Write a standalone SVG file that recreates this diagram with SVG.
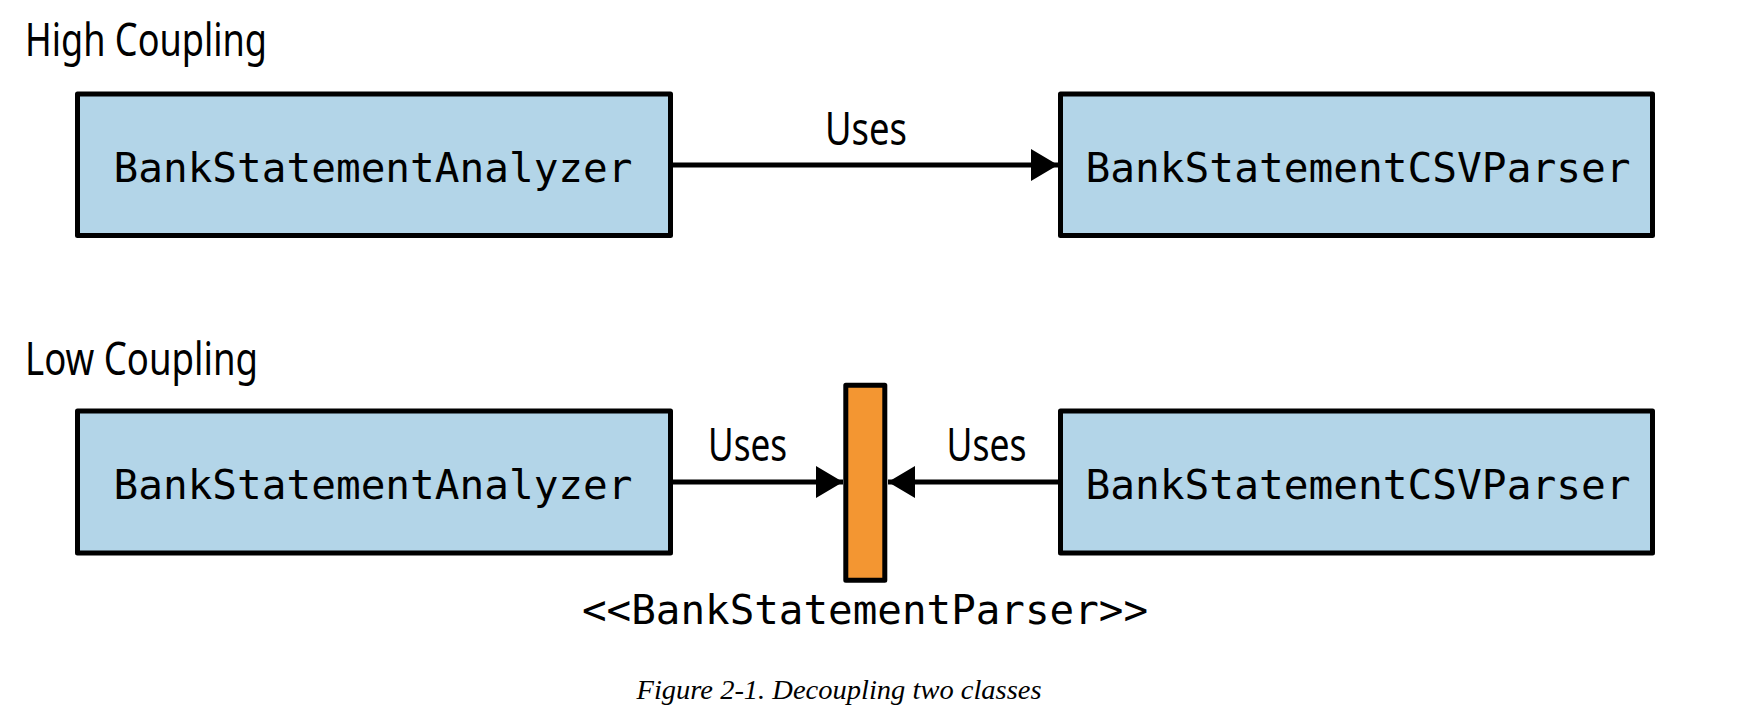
<svg xmlns="http://www.w3.org/2000/svg" width="1738" height="726" viewBox="0 0 1738 726">
<defs>
<style>
.bg{fill:#ffffff}
.cls{fill:#b3d5e8;stroke:#000;stroke-width:5;stroke-linejoin:round}
.iface{fill:#f39632;stroke:#000;stroke-width:5;stroke-linejoin:round}
.mono{font-family:"DejaVu Sans Mono","Liberation Mono",monospace;font-size:41px;fill:#000}
.head{font-family:"Noto Sans","Open Sans",sans-serif;font-size:46px;fill:#000}
.lbl{font-family:"Noto Sans","Open Sans",sans-serif;font-size:46px;fill:#000}
.cap{font-family:"Liberation Serif","Times New Roman",serif;font-style:italic;font-size:28px;fill:#000}
.conn{stroke:#000;stroke-width:5;fill:none}
</style>
<marker id="arrow" markerUnits="userSpaceOnUse" markerWidth="28" markerHeight="32" refX="27" refY="16" orient="auto">
<path d="M0,0 L27,16 L0,32 Z" fill="#000"/>
</marker>
</defs>
<rect class="bg" x="0" y="0" width="1738" height="726"/>

<text id="high-title" class="head" x="25" y="56" textLength="242" lengthAdjust="spacingAndGlyphs">High Coupling</text>
<text id="low-title" class="head" x="25" y="375" textLength="233" lengthAdjust="spacingAndGlyphs">Low Coupling</text>

<g id="connectors">
<line class="conn" x1="673" y1="165" x2="1058" y2="165" marker-end="url(#arrow)"/>
<text class="lbl" x="866" y="145" text-anchor="middle" textLength="82" lengthAdjust="spacingAndGlyphs">Uses</text>
<line class="conn" x1="673" y1="482" x2="843" y2="482" marker-end="url(#arrow)"/>
<text class="lbl" x="747.5" y="461" text-anchor="middle" textLength="79" lengthAdjust="spacingAndGlyphs">Uses</text>
<line class="conn" x1="1058" y1="482" x2="888" y2="482" marker-end="url(#arrow)"/>
<text class="lbl" x="986.5" y="461" text-anchor="middle" textLength="80" lengthAdjust="spacingAndGlyphs">Uses</text>
</g>

<g id="high-analyzer">
<rect class="cls" x="77.5" y="94" width="593" height="141.5"/>
<text class="mono" x="373" y="182" text-anchor="middle" textLength="519" lengthAdjust="spacingAndGlyphs">BankStatementAnalyzer</text>
</g>
<g id="high-csvparser">
<rect class="cls" x="1060.5" y="94" width="592" height="141.5"/>
<text class="mono" x="1358" y="182" text-anchor="middle" textLength="545" lengthAdjust="spacingAndGlyphs">BankStatementCSVParser</text>
</g>

<g id="low-analyzer">
<rect class="cls" x="77.5" y="411" width="593" height="142"/>
<text class="mono" x="373" y="499" text-anchor="middle" textLength="519" lengthAdjust="spacingAndGlyphs">BankStatementAnalyzer</text>
</g>
<g id="low-csvparser">
<rect class="cls" x="1060.5" y="411" width="592" height="142"/>
<text class="mono" x="1358" y="499" text-anchor="middle" textLength="545" lengthAdjust="spacingAndGlyphs">BankStatementCSVParser</text>
</g>

<g id="bank-statement-parser">
<rect class="iface" x="845.8" y="385.2" width="39" height="195"/>
<text class="mono" x="865" y="624" text-anchor="middle" textLength="566" lengthAdjust="spacingAndGlyphs">&lt;&lt;BankStatementParser&gt;&gt;</text>
</g>

<text id="caption" class="cap" x="839" y="699" text-anchor="middle" textLength="405" lengthAdjust="spacingAndGlyphs">Figure 2-1. Decoupling two classes</text>
</svg>
